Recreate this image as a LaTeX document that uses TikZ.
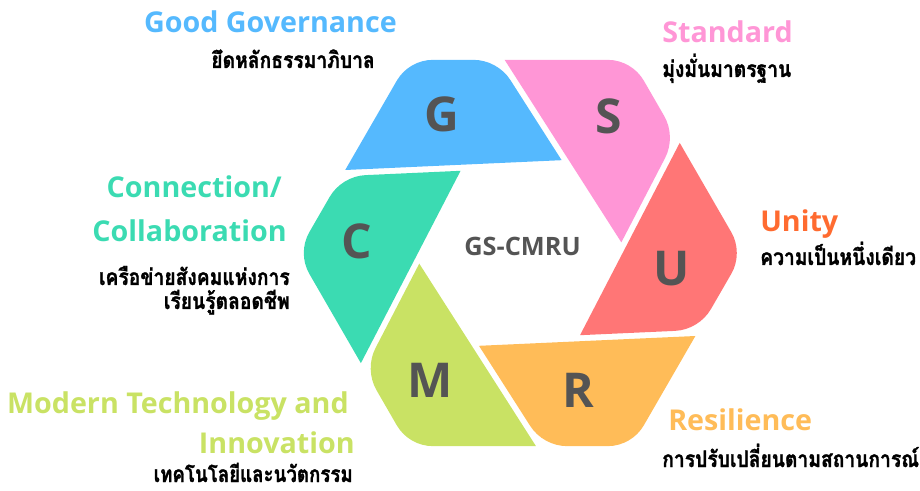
\documentclass[tikz,border=0pt]{standalone}
\usepackage{fontspec}
\setmainfont{Open Sans}
\newfontfamily\thaifont[Script=Thai, FakeStretch=0.85, BoldFeatures={FakeBold=1.2}]{Loma}
\usetikzlibrary{calc}
\definecolor{cG}{HTML}{55B9FE}
\definecolor{cS}{HTML}{FF96D6}
\definecolor{cU}{HTML}{FF7676}
\definecolor{cR}{HTML}{FFBC58}
\definecolor{cM}{HTML}{C9E264}
\definecolor{cC}{HTML}{3BDBB2}
\definecolor{cUt}{HTML}{FF6B30}
\definecolor{lettergray}{HTML}{545454}
\newcommand\tipr{101.6}
\newcommand\outr{223}
\newcommand\blade[3]{%
  \pgfmathsetmacro\bbase{#2-6}
  \coordinate (#1T) at (#2:\tipr);
  \coordinate (#1Ta) at ($(#1T)+(#2+116.6:50)$);
  \coordinate (#1Tb) at ($(#1T)+(#2+56.6:50)$);
  \coordinate (#1Oa) at (\bbase+120:\outr);
  \coordinate (#1O) at (\bbase+60:\outr);
  \coordinate (#1Ob) at (\bbase:\outr);
  \coordinate (#1A) at (intersection of #1T--#1Ta and #1Oa--#1O);
  \coordinate (#1B) at (intersection of #1T--#1Tb and #1O--#1Ob);
  \fill[#3] (#1T) -- (#1A) -- ($(#1O)!18pt!(#1A)$)
     .. controls ($(#1O)!7pt!(#1A)$) and ($(#1O)!7pt!(#1B)$) .. ($(#1O)!18pt!(#1B)$)
     -- ($(#1B)!18pt!(#1O)$)
     .. controls ($(#1B)!7pt!(#1O)$) and ($(#1B)!7pt!(#1T)$) .. ($(#1B)!18pt!(#1T)$)
     -- cycle;
}
\tikzset{
  letter/.style={font=\fontsize{36}{36}\selectfont\bfseries, text=lettergray, inner sep=0pt},
  head/.style={font=\fontsize{21.5}{22}\selectfont\bfseries, inner sep=0pt},
  thai/.style={font=\fontsize{17}{18}\selectfont\thaifont\bfseries, text=black, inner sep=0pt},
}
\begin{document}
\begin{tikzpicture}[x=0.75pt,y=0.75pt]
\useasboundingbox (0,0) rectangle (920,-491);
\begin{scope}[shift={(520.3,-253)}]
  \blade{G}{66}{cG}
  \blade{S}{6}{cS}
  \blade{U}{306}{cU}
  \blade{R}{246}{cR}
  \blade{M}{186}{cM}
  \blade{C}{126}{cC}
\end{scope}
\node[letter] (lG) at (441.7,-114) {G};
\node[letter] (lS) at (608.3,-116.7) {S};
\node[letter] (lU) at (672,-268.3) {U};
\node[letter] (lR) at (578.3,-390) {R};
\node[letter] (lM) at (430,-380) {M};
\node[letter] (lC) at (356.7,-241.7) {C};
\node[font=\fontsize{19}{19}\selectfont\bfseries, text=lettergray, inner sep=0pt] (core) at (522.5,-246.7) {GS-CMRU};
% headings
\node[head, text=cG, anchor=base east] (hG) at (397,-33) {Good Governance};
\node[thai, anchor=base east] (tG) at (375,-68) {ยึดหลักธรรมาภิบาล};
\node[head, text=cS, anchor=base west] (hS) at (662,-43) {Standard};
\node[thai, anchor=base west] (tS) at (662,-77) {มุ่งมั่นมาตรฐาน};
\node[head, text=cC, anchor=base east] (hC1) at (282,-198) {Connection/};
\node[head, text=cC, anchor=base east] (hC2) at (287,-242) {Collaboration};
\node[thai, anchor=base east] (tC1) at (290,-285) {เครือข่ายสังคมแห่งการ};
\node[thai, anchor=base east] (tC2) at (290,-309) {เรียนรู้ตลอดชีพ};
\node[head, text=cUt, anchor=base west] (hU) at (760,-232) {Unity};
\node[thai, anchor=base west] (tU) at (760,-265) {ความเป็นหนึ่งเดียว};
\node[head, text=cM, anchor=base east] (hM1) at (349,-413) {Modern Technology and};
\node[head, text=cM, anchor=base east] (hM2) at (355,-453) {Innovation};
\node[thai, anchor=base east] (tM) at (353,-482) {\scalebox{0.97}[1]{เทคโนโลยีและนวัตกรรม}};
\node[head, text=cR, anchor=base west] (hR) at (668,-430) {Resilience};
\node[thai, anchor=base west] (tR) at (662,-467) {การปรับเปลี่ยนตามสถานการณ์};
\end{tikzpicture}
\end{document}
